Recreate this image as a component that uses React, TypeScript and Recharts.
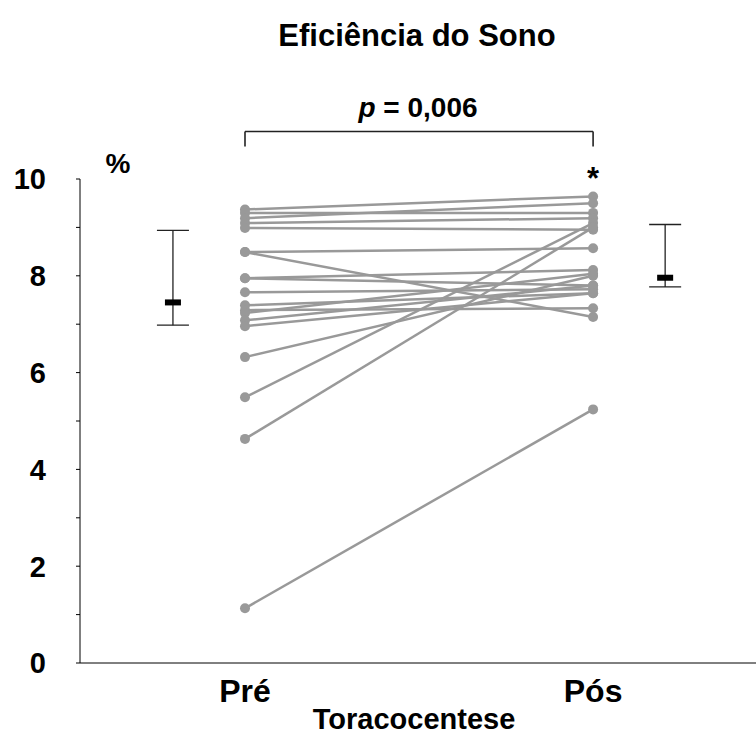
import React from "react";
import { ComposedChart, Scatter, XAxis, YAxis, ErrorBar, ReferenceLine } from "recharts";

const categories = ["Pré", "Pós"];
const categoryX = [1, 2];
const preValues = [9.37, 9.3, 9.19, 9.09, 8.99, 8.49, 8.49, 7.95, 7.95, 7.66, 7.39, 7.29, 7.23, 7.08, 6.96, 6.32, 5.49, 4.63, 1.13];
const postValues = [9.64, 9.3, 9.5, 9.19, 8.95, 8.57, 7.15, 8.12, 7.8, 7.72, 7.64, 7.33, 8.04, 7.8, 7.64, 8.0, 9.09, 9.0, 5.24];
const summaryX = [0.793, 2.207];
const summaryCenter = [7.45, 7.96];
const summaryLow = [6.98, 7.77];
const summaryHigh = [8.94, 9.06];
const yTicks = [0, 1, 2, 3, 4, 5, 6, 7, 8, 9, 10];
const bracketY = 10.98;
const bracketFootY = 10.67;

const FONT = "'Liberation Sans', Arial, Helvetica, sans-serif";
const GRAY = "#999999";

const subjects = preValues.map((v, i) => [
  { x: categoryX[0], y: v },
  { x: categoryX[1], y: postValues[i] },
]);

const summaryData = summaryX.map((x, i) => ({
  x,
  y: summaryCenter[i],
  err: [summaryCenter[i] - summaryLow[i], summaryHigh[i] - summaryCenter[i]],
}));

const Dot = (p: any) => <circle cx={p.cx} cy={p.cy} r={5} fill={GRAY} />;
const Mark = (p: any) => <rect x={p.cx - 8} y={p.cy - 3} width={16} height={6} fill="#000" />;

const YTick = (p: any) => {
  const v = p.payload.value;
  if (v % 2 !== 0) return null;
  return (
    <text x={46} y={p.y} dy="0.36em" textAnchor="end" fontFamily={FONT} fontWeight="bold" fontSize={29} fill="#000">
      {v}
    </text>
  );
};

const XTick = (p: any) => {
  const idx = categoryX.indexOf(p.payload.value);
  return (
    <text x={p.x} y={702} textAnchor="middle" fontFamily={FONT} fontWeight="bold" fontSize={32} fill="#000">
      {categories[idx]}
    </text>
  );
};

export default function App() {
  return (
    <div style={{ position: "absolute", left: 0, top: 0, width: 756, height: 736, background: "#fff" }}>
      <ComposedChart width={756} height={736} margin={{ top: 179, right: 0, bottom: 0, left: 0 }}>
        <XAxis
          type="number"
          dataKey="x"
          domain={[0.526, 2.468]}
          ticks={categoryX}
          tick={<XTick />}
          tickLine={false}
          axisLine={{ stroke: "#000", strokeWidth: 1 }}
          height={73}
          allowDataOverflow
        />
        <YAxis
          type="number"
          dataKey="y"
          domain={[0, 10]}
          ticks={yTicks}
          tick={<YTick />}
          tickSize={4}
          tickLine={{ stroke: "#000" }}
          axisLine={{ stroke: "#000", strokeWidth: 1 }}
          width={80}
          interval={0}
          allowDataOverflow
        />
        {subjects.map((d, i) => (
          <Scatter
            key={i}
            data={d}
            line={{ stroke: GRAY, strokeWidth: 2.5 }}
            shape={<Dot />}
            isAnimationActive={false}
          />
        ))}
        <Scatter data={summaryData} shape={<Mark />} isAnimationActive={false}>
          <ErrorBar dataKey="err" direction="y" width={16} stroke="#222" strokeWidth={1.3} isAnimationActive={false} />
        </Scatter>
        <ReferenceLine
          segment={[{ x: categoryX[0], y: bracketY }, { x: categoryX[1], y: bracketY }]}
          stroke="#222"
          strokeWidth={1.6}
          ifOverflow="visible"
        />
        <ReferenceLine
          segment={[{ x: categoryX[0], y: bracketY }, { x: categoryX[0], y: bracketFootY }]}
          stroke="#222"
          strokeWidth={1.6}
          ifOverflow="visible"
        />
        <ReferenceLine
          segment={[{ x: categoryX[1], y: bracketY }, { x: categoryX[1], y: bracketFootY }]}
          stroke="#222"
          strokeWidth={1.6}
          ifOverflow="visible"
        />
      </ComposedChart>
      <svg width={756} height={736} style={{ position: "absolute", left: 0, top: 0, pointerEvents: "none" }}>
        <text x={417} y={46} textAnchor="middle" fontFamily={FONT} fontWeight="bold" fontSize={31} fill="#000">
          Eficiência do Sono
        </text>
        <text x={418} y={117} textAnchor="middle" fontFamily={FONT} fontWeight="bold" fontSize={28} fill="#000">
          <tspan fontStyle="italic">p</tspan>
          <tspan> = 0,006</tspan>
        </text>
        <text x={118} y={173} textAnchor="middle" fontFamily={FONT} fontWeight="bold" fontSize={28} fill="#000">
          %
        </text>
        <text x={593} y={189} textAnchor="middle" fontFamily={FONT} fontWeight="bold" fontSize={31} fill="#000">
          *
        </text>
        <text x={414} y={729} textAnchor="middle" fontFamily={FONT} fontWeight="bold" fontSize={29} fill="#000">
          Toracocentese
        </text>
      </svg>
    </div>
  );
}
